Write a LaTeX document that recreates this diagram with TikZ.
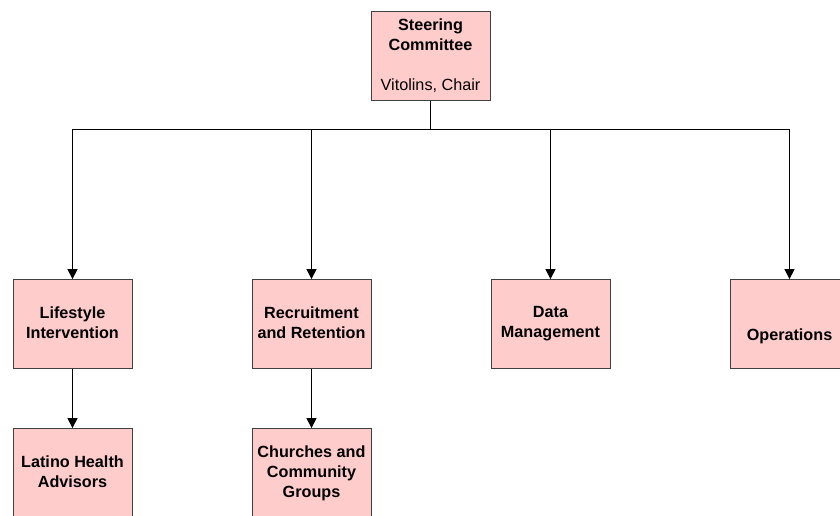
\documentclass[tikz,border=0pt]{standalone}
\usepackage{fontspec}
\setmainfont{Liberation Sans}
\usetikzlibrary{arrows.meta}
\begin{document}
\begin{tikzpicture}[x=1pt,y=-1pt,
  box/.style={draw=black!75,line width=0.8pt,fill={rgb,255:red,255;green,204;blue,204},
    minimum width=119pt,minimum height=89pt,inner sep=0pt,align=center,
    font=\fontsize{16.2pt}{20pt}\selectfont\bfseries,
    execute at begin node=\rule{0pt}{17pt}, execute at end node=\rule[-3pt]{0pt}{3pt}},
  conn/.style={line width=1.2pt,-{Triangle[width=10pt,length=10pt]}}]
\path[use as bounding box] (0,0) rectangle (840,516);
\clip (0,0) rectangle (840,516);
\node[box] (sc) at (430.5,56) {Steering\\Committee\\[20pt]\mdseries Vitolins, Chair};
\node[box] (li) at (72.5,324) {Lifestyle\\Intervention};
\node[box] (rr) at (311.5,324) {Recruitment\\and Retention};
\node[box] (dm) at (550.5,324) {Data\\Management};
\node[box] (op) at (789.5,324) {\smash{\raisebox{-9pt}{Operations}}};
\node[box] (lh) at (72.5,473) {Latino Health\\Advisors};
\node[box] (cc) at (311.5,473) {Churches and\\Community\\Groups};
\foreach \c in {li,rr,dm,op}
  \draw[conn] (sc.south) -- ++(0,29) -| (\c.north);
\draw[conn] (li.south) -- (lh.north);
\draw[conn] (rr.south) -- (cc.north);
\end{tikzpicture}
\end{document}
